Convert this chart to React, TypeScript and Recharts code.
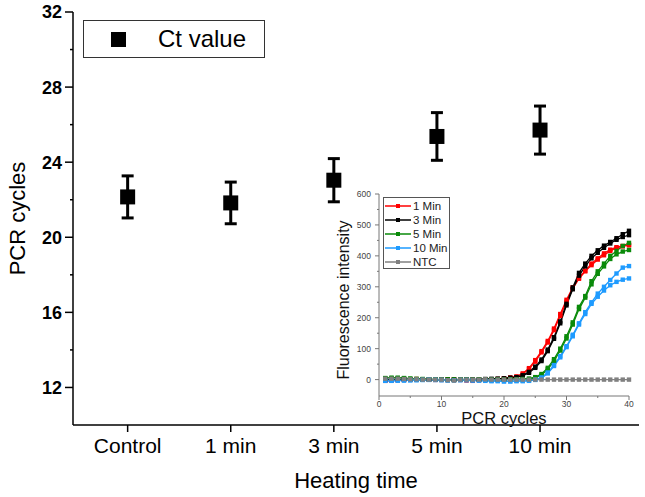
import React from 'react';
import { ScatterChart, Scatter, LineChart, Line, XAxis, YAxis, ErrorBar, Legend } from 'recharts';

const FONT = '"Liberation Sans", Arial, Helvetica, sans-serif';

// ---------- main chart data ----------
const categories = ['Control', '1 min', '3 min', '5 min', '10 min'];
const categoryPos = [1, 2, 3, 4, 5];
const ctMean = [22.15, 21.83, 23.04, 25.37, 25.71];
const ctSd = [1.12, 1.11, 1.15, 1.27, 1.28];
const mainYTicks = [12, 14, 16, 18, 20, 22, 24, 26, 28, 30, 32];
const mainLegendLabel = 'Ct value';

// ---------- inset data ----------
const cycles = [1, 2, 3, 4, 5, 6, 7, 8, 9, 10, 11, 12, 13, 14, 15, 16, 17, 18, 19, 20, 21, 22, 23, 24, 25, 26, 27, 28, 29, 30, 31, 32, 33, 34, 35, 36, 37, 38, 39, 40];
const red1 = [-4, -2, -1, 0, 1, 2, 1, 0, 0, -1, 0, 1, 0, -2, -4, -1, 0, 1, 2, 4, 7, 10, 20, 37, 63, 92, 125, 165, 212, 258, 298, 330, 352, 375, 392, 408, 420, 428, 432, 434];
const red2 = [-3, -3, -2, -1, 0, 1, 1, 0, -1, 0, 0, 0, -1, -2, -3, -2, -1, 0, 1, 3, 5, 9, 18, 34, 58, 88, 120, 160, 206, 252, 294, 326, 350, 370, 388, 402, 416, 426, 431, 436];
const black1 = [2, 3, 2, 1, 1, 0, 0, 1, 0, 0, -1, 0, 0, 1, 0, 1, 2, 2, 3, 4, 6, 8, 14, 25, 42, 65, 97, 137, 188, 245, 298, 345, 375, 400, 418, 433, 445, 457, 470, 481];
const black2 = [1, 2, 3, 2, 1, 1, 0, 0, 0, 0, 0, -1, 0, 0, 1, 1, 1, 2, 2, 3, 5, 7, 12, 22, 38, 60, 92, 132, 182, 240, 292, 336, 366, 392, 410, 426, 440, 452, 461, 467];
const green1 = [5, 6, 5, 4, 3, 2, 2, 1, 1, 0, 0, 0, 1, 0, 0, 0, 0, -1, 0, 0, 1, 1, 2, 3, 8, 18, 38, 66, 100, 140, 185, 235, 270, 318, 350, 375, 400, 416, 432, 442];
const green2 = [4, 5, 6, 5, 3, 2, 1, 1, 0, 0, 0, 0, 0, 0, -1, 0, 0, 0, 0, 0, 0, 1, 1, 2, 6, 15, 33, 60, 94, 133, 178, 228, 265, 308, 342, 366, 390, 405, 414, 419];
const blue1 = [-4, -4, -3, -3, -2, -2, -1, -1, -1, -2, -3, -2, -2, -2, -3, -3, -4, -5, -5, -6, -6, -5, -5, -4, -1, 5, 20, 44, 72, 105, 140, 178, 212, 245, 268, 288, 305, 316, 323, 327];
const blue2 = [-3, -3, -3, -2, -2, -1, -1, 0, -1, -1, -2, -2, -1, -1, -2, -3, -3, -4, -4, -5, -5, -4, -4, -3, 0, 7, 23, 47, 76, 108, 145, 182, 218, 250, 278, 300, 322, 343, 362, 367];
const ntc = [3, 3, 3, 2, 1, 1, 0, 0, 0, 0, -2, -3, 0, 0, 0, 0, 1, 0, 0, 0, 0, 0, 0, 0, 0, 0, 0, 0, 0, 0, 0, 0, 0, 0, 0, 0, 0, 0, 0, 0];
const insetYTicks = [0, 50, 100, 150, 200, 250, 300, 350, 400, 450, 500, 550, 600];
const insetXTicks = [0, 5, 10, 15, 20, 25, 30, 35, 40];

const legendEntries = [
  { name: '1 Min', color: '#ff0000' },
  { name: '3 Min', color: '#000000' },
  { name: '5 Min', color: '#0a8a0a' },
  { name: '10 Min', color: '#1e9bff' },
  { name: 'NTC', color: '#808080' },
];

const insetSeries = [
  { key: 'red1', color: '#ff0000', values: red1 },
  { key: 'red2', color: '#ff0000', values: red2 },
  { key: 'black1', color: '#000000', values: black1 },
  { key: 'black2', color: '#000000', values: black2 },
  { key: 'green1', color: '#0a8a0a', values: green1 },
  { key: 'green2', color: '#0a8a0a', values: green2 },
  { key: 'blue1', color: '#1e9bff', values: blue1 },
  { key: 'blue2', color: '#1e9bff', values: blue2 },
  { key: 'ntc', color: '#808080', values: ntc },
];

const mainRows = categoryPos.map((x, i) => ({ x, y: ctMean[i], err: ctSd[i] }));
const insetRows = cycles.map((c, i) => {
  const r: any = { cycle: c };
  insetSeries.forEach((s) => {
    r[s.key] = s.values[i];
  });
  return r;
});

const MainYTick = (props: any) => {
  const { x, y, payload } = props;
  const v = payload.value;
  const major = v % 4 === 0;
  return (
    <g>
      <line x1={x + (major ? 3 : 8)} x2={x + 11} y1={y} y2={y} stroke="#000" strokeWidth={1.5} />
      {major && (
        <text x={x} y={y} dy="0.36em" textAnchor="end" fontSize={18} fontWeight="bold" fontFamily={FONT} fill="#000">
          {v}
        </text>
      )}
    </g>
  );
};

const InsetYTick = (props: any) => {
  const { x, y, payload } = props;
  const v = payload.value;
  const major = v % 100 === 0;
  return (
    <g>
      <line x1={x + (major ? 4 : 6)} x2={x + 8} y1={y} y2={y} stroke="#777" strokeWidth={1} />
      {major && (
        <text x={x} y={y} dy="0.35em" textAnchor="end" fontSize={8.5} fontFamily={FONT} fill="#444">
          {v}
        </text>
      )}
    </g>
  );
};

const InsetXTick = (props: any) => {
  const { x, y, payload } = props;
  const v = payload.value;
  const major = v % 10 === 0;
  const axisY = y - 5;
  return (
    <g>
      <line x1={x} x2={x} y1={axisY} y2={axisY + (major ? 4 : 2)} stroke="#777" strokeWidth={1} />
      {major && (
        <text x={x} y={y} dy="0.75em" textAnchor="middle" fontSize={8.5} fontFamily={FONT} fill="#444">
          {v}
        </text>
      )}
    </g>
  );
};

const InsetYLabel = (props: any) => {
  const vb = props.viewBox || { x: 0, y: 14, width: 49, height: 202 };
  const cx = vb.x + 13;
  const cy = vb.y + vb.height / 2 + 5;
  return (
    <text
      x={cx}
      y={cy}
      transform={`rotate(-90, ${cx}, ${cy})`}
      textAnchor="middle"
      dy="0.36em"
      fontSize={16}
      fill="#111"
      fontFamily={FONT}
    >
      Fluorescence intensity
    </text>
  );
};

const MainLegend = () => (
  <div
    style={{
      width: 182,
      height: 38,
      border: '1px solid #333',
      boxSizing: 'border-box',
      position: 'relative',
      background: '#fff',
      fontFamily: FONT,
    }}
  >
    <div style={{ position: 'absolute', left: 27, top: 11, width: 15, height: 15, background: '#000' }} />
    <div style={{ position: 'absolute', left: 74, top: 3, fontSize: 24, lineHeight: '30px', color: '#000' }}>
      {mainLegendLabel}
    </div>
  </div>
);

const InsetLegend = () => (
  <div
    style={{
      width: 67,
      height: 72,
      border: '1px solid #555',
      boxSizing: 'border-box',
      background: '#fff',
      fontFamily: FONT,
      fontSize: 11.5,
      paddingTop: 1,
    }}
  >
    {legendEntries.map((s) => (
      <div key={s.name} style={{ display: 'flex', alignItems: 'center', height: 14 }}>
        <svg width={28} height={8} style={{ display: 'block', flex: 'none' }}>
          <line x1={1} x2={27} y1={4} y2={4} stroke={s.color} strokeWidth={1.5} />
          <rect x={12} y={2} width={4} height={4} fill={s.color} />
        </svg>
        <span style={{ marginLeft: 1, color: '#222', lineHeight: '14px', whiteSpace: 'nowrap' }}>{s.name}</span>
      </div>
    ))}
  </div>
);

const makeDot = (key: string, color: string) => (p: any) => (
  <rect key={`${key}-${p.index}`} x={p.cx - 2.2} y={p.cy - 2.2} width={4.4} height={4.4} fill={color} />
);

export default function App() {
  return (
    <div style={{ position: 'absolute', left: 0, top: 0, width: 645, height: 497, background: '#fff' }}>
      <ScatterChart width={645} height={497} margin={{ top: 12, right: 6, bottom: 0, left: 0 }}>
        <XAxis
          xAxisId="b"
          type="number"
          dataKey="x"
          domain={[0.47, 5.96]}
          ticks={categoryPos}
          interval={0}
          tickFormatter={(v: number) => categories[categoryPos.indexOf(v)] ?? ''}
          height={72}
          tickSize={7}
          tickMargin={6}
          tick={{ fontSize: 21, fill: '#000', fontFamily: FONT }}
          axisLine={{ stroke: '#000', strokeWidth: 1.5 }}
          tickLine={{ stroke: '#000', strokeWidth: 1.5 }}
          label={{ value: 'Heating time', position: 'insideBottom', offset: 9, fontSize: 22, fill: '#000', fontFamily: FONT }}
        />
        <XAxis
          xAxisId="t"
          orientation="top"
          type="number"
          domain={[0.47, 5.96]}
          height={0}
          tick={false}
          tickLine={false}
          axisLine={{ stroke: '#000', strokeWidth: 1.5 }}
        />
        <YAxis
          yAxisId="l"
          type="number"
          dataKey="y"
          domain={[10, 32]}
          ticks={mainYTicks}
          interval={0}
          width={73}
          tickSize={8}
          tickMargin={3}
          tickLine={false}
          tick={<MainYTick />}
          axisLine={{ stroke: '#000', strokeWidth: 1.5 }}
          label={{
            value: 'PCR cycles',
            angle: -90,
            position: 'insideLeft',
            offset: 17,
            fontSize: 22,
            fill: '#000',
            fontFamily: FONT,
            style: { textAnchor: 'middle' },
          }}
        />
        <YAxis
          yAxisId="r"
          orientation="right"
          type="number"
          domain={[10, 32]}
          width={0}
          tick={false}
          tickLine={false}
          axisLine={{ stroke: '#000', strokeWidth: 1.5 }}
        />
        <Legend
          layout="vertical"
          verticalAlign="middle"
          align="center"
          wrapperStyle={{ left: 83, top: 20, width: 182, height: 38 }}
          content={() => <MainLegend />}
        />
        <Scatter
          xAxisId="b"
          yAxisId="l"
          data={mainRows}
          dataKey="y"
          isAnimationActive={false}
          shape={(p: any) => <rect x={p.cx - 7.5} y={p.cy - 7.5} width={15} height={15} fill="#000" />}
        >
          <ErrorBar dataKey="err" direction="y" width={6} strokeWidth={3} stroke="#000" />
        </Scatter>
      </ScatterChart>

      <div style={{ position: 'absolute', left: 330, top: 180 }}>
        <LineChart width={305} height={250} data={insetRows} margin={{ top: 14, right: 6, bottom: 0, left: 0 }}>
          <XAxis
            xAxisId="b"
            type="number"
            dataKey="cycle"
            domain={[0, 40]}
            ticks={insetXTicks}
            interval={0}
            height={34}
            tickSize={4}
            tickMargin={1}
            tickLine={false}
            tick={<InsetXTick />}
            axisLine={{ stroke: '#777', strokeWidth: 1 }}
            label={{ value: 'PCR cycles', position: 'insideBottom', offset: 6, fontSize: 16.5, fill: '#111', fontFamily: FONT }}
          />
          <XAxis
            xAxisId="t"
            orientation="top"
            type="number"
            domain={[0, 40]}
            height={0}
            tick={false}
            tickLine={false}
            axisLine={{ stroke: '#777', strokeWidth: 1 }}
          />
          <YAxis
            yAxisId="l"
            type="number"
            domain={[-53, 600]}
            ticks={insetYTicks}
            interval={0}
            width={49}
            tickSize={4}
            tickMargin={4}
            tickLine={false}
            tick={<InsetYTick />}
            axisLine={{ stroke: '#777', strokeWidth: 1 }}
            label={{ value: 'Fluorescence intensity', content: (p: any) => <InsetYLabel {...p} /> }}
          />
          <YAxis
            yAxisId="r"
            orientation="right"
            type="number"
            domain={[-53, 600]}
            width={0}
            tick={false}
            tickLine={false}
            axisLine={{ stroke: '#777', strokeWidth: 1 }}
          />
          <Legend
            layout="vertical"
            verticalAlign="middle"
            align="center"
            wrapperStyle={{ left: 53, top: 17, width: 67, height: 72 }}
            content={() => <InsetLegend />}
          />
          {insetSeries.map((s) => (
            <Line
              key={s.key}
              xAxisId="b"
              yAxisId="l"
              type="linear"
              dataKey={s.key}
              stroke={s.color}
              strokeWidth={1.3}
              dot={makeDot(s.key, s.color)}
              activeDot={false}
              isAnimationActive={false}
              legendType="none"
            />
          ))}
        </LineChart>
      </div>
    </div>
  );
}
